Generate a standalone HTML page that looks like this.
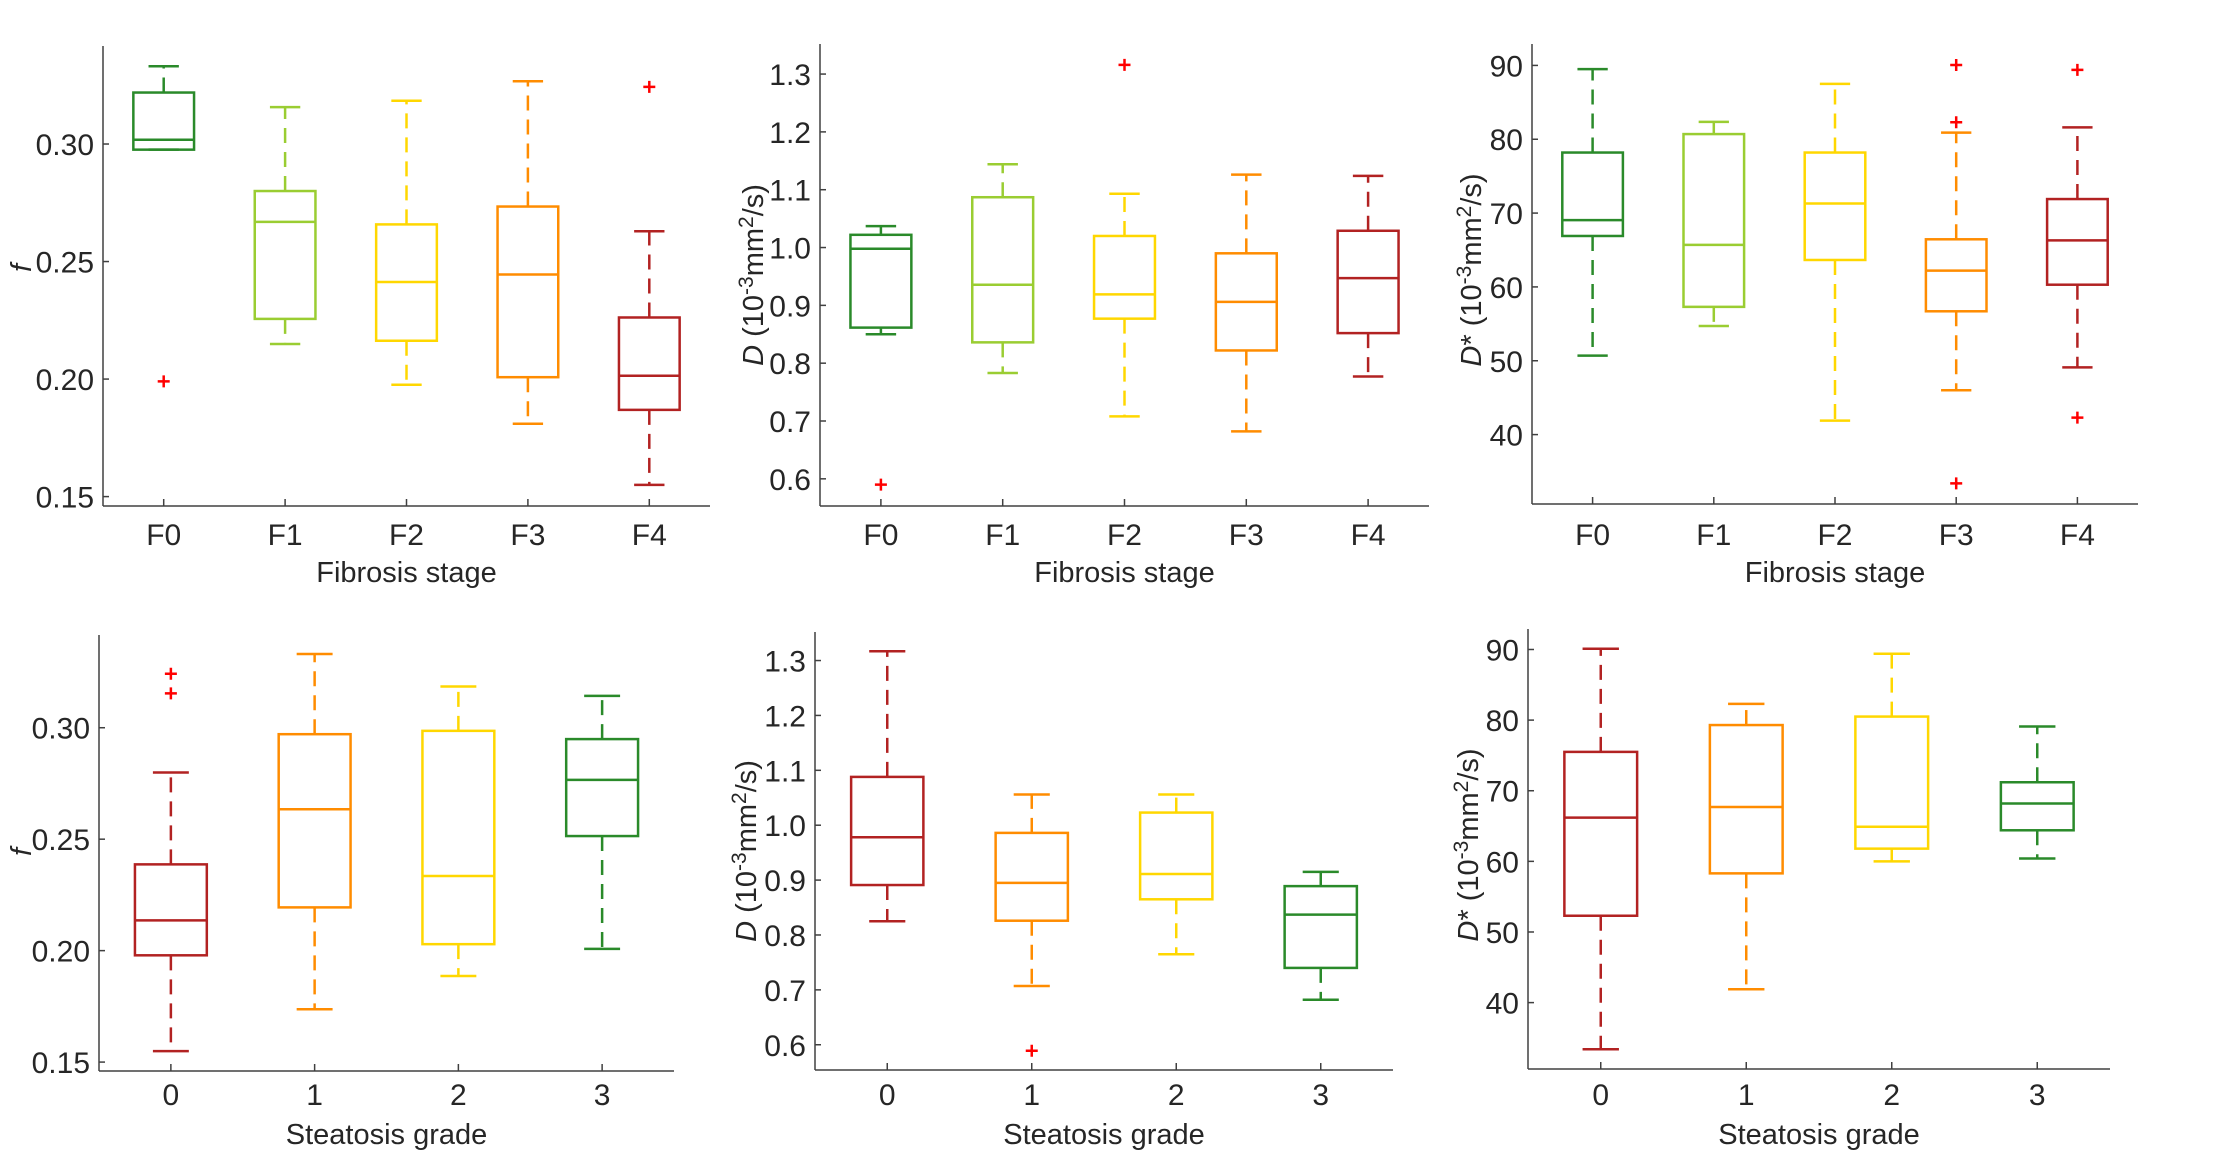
<!DOCTYPE html>
<html><head><meta charset="utf-8"><style>
html,body{margin:0;padding:0;background:#fff;}
svg{display:block;}
text{font-family:"Liberation Sans",Arial,sans-serif;fill:#262626;}
</style></head><body>
<svg id="fig" width="2213" height="1151" viewBox="0 0 2213 1151" xmlns="http://www.w3.org/2000/svg"></svg>
<script>
// ---- category labels ----
const fibrosisCats = ["F0","F1","F2","F3","F4"];
const steatosisCats = ["0","1","2","3"];
// ---- Panel 1: f vs fibrosis ----
const p1Lo  = [0.2976,0.2149,0.1976,0.181,0.155];
const p1Q1  = [0.2976,0.2256,0.2163,0.2008,0.1869];
const p1Med = [0.3018,0.2669,0.2413,0.2445,0.2014];
const p1Q3  = [0.3219,0.280,0.2658,0.2734,0.2262];
const p1Hi  = [0.3331,0.3157,0.3184,0.3267,0.2629];
const p1OutCat = [0,4];
const p1OutVal = [0.199,0.3243];
const p1Ticks = [0.15,0.20,0.25,0.30];
const p1TickLabels = ["0.15","0.20","0.25","0.30"];
// ---- Panel 2: D vs fibrosis ----
const p2Lo  = [0.850,0.783,0.708,0.682,0.777];
const p2Q1  = [0.8615,0.836,0.877,0.822,0.852];
const p2Med = [0.998,0.9357,0.919,0.906,0.947];
const p2Q3  = [1.022,1.087,1.020,0.990,1.029];
const p2Hi  = [1.037,1.144,1.093,1.126,1.124];
const p2OutCat = [0,2];
const p2OutVal = [0.590,1.316];
const p2Ticks = [0.6,0.7,0.8,0.9,1.0,1.1,1.2,1.3];
const p2TickLabels = ["0.6","0.7","0.8","0.9","1.0","1.1","1.2","1.3"];
// ---- Panel 3: D* vs fibrosis ----
const p3Lo  = [50.7,54.7,41.9,46.0,49.1];
const p3Q1  = [66.9,57.3,63.65,56.7,60.3];
const p3Med = [69.05,65.7,71.3,62.2,66.3];
const p3Q3  = [78.2,80.7,78.2,66.45,71.9];
const p3Hi  = [89.5,82.35,87.5,80.9,81.6];
const p3OutCat = [3,3,3,4,4];
const p3OutVal = [90.05,82.3,33.4,89.4,42.3];
const p3Ticks = [40,50,60,70,80,90];
const p3TickLabels = ["40","50","60","70","80","90"];
// ---- Panel 4: f vs steatosis ----
const p4Lo  = [0.1549,0.1737,0.1886,0.2008];
const p4Q1  = [0.1979,0.2194,0.2029,0.2514];
const p4Med = [0.2136,0.2634,0.2335,0.2766];
const p4Q3  = [0.2387,0.2971,0.2986,0.2949];
const p4Hi  = [0.2799,0.3331,0.3185,0.3143];
const p4OutCat = [0,0];
const p4OutVal = [0.3242,0.3154];
// ---- Panel 5: D vs steatosis ----
const p5Lo  = [0.825,0.707,0.765,0.682];
const p5Q1  = [0.891,0.826,0.865,0.740];
const p5Med = [0.978,0.895,0.911,0.837];
const p5Q3  = [1.088,0.986,1.023,0.889];
const p5Hi  = [1.317,1.056,1.056,0.915];
const p5OutCat = [1];
const p5OutVal = [0.589];
// ---- Panel 6: D* vs steatosis ----
const p6Lo  = [33.4,41.9,60.0,60.4];
const p6Q1  = [52.3,58.3,61.8,64.4];
const p6Med = [66.2,67.7,64.9,68.2];
const p6Q3  = [75.5,79.3,80.5,71.2];
const p6Hi  = [90.1,82.3,89.4,79.1];
const p6OutCat = [];
const p6OutVal = [];

const GREEN="#2a8a2a", LGREEN="#9acd32", YEL="#ffd700", ORG="#ff8c00", RED="#b22222";
const fibColors=[GREEN,LGREEN,YEL,ORG,RED];
const steColors=[RED,ORG,YEL,GREEN];
const NS="http://www.w3.org/2000/svg";
const svg=document.getElementById('fig');

function mk(tag,attrs,parent){
  const e=document.createElementNS(NS,tag);
  for(const k in attrs) e.setAttribute(k,attrs[k]);
  (parent||svg).appendChild(e);
  return e;
}

function panel(cfg){
  const g=mk('g',{});
  
  
  const n=cfg.cats.length;
  const xs=i=>cfg.L+(i+0.5)*(cfg.R-cfg.L)/n;
  const ys=v=>cfg.B-(v-cfg.ymin)/(cfg.ymax-cfg.ymin)*(cfg.B-cfg.T);
  const step=(cfg.R-cfg.L)/n;
  const ya=mk('line',{x1:cfg.L,y1:cfg.T,x2:cfg.L,y2:cfg.B,stroke:'#404040','stroke-width':1.5},g);
  
  
  const xa=mk('line',{x1:cfg.L,y1:cfg.B,x2:cfg.R,y2:cfg.B,stroke:'#404040','stroke-width':1.5},g);
  
  
  cfg.ticks.forEach((t,i)=>{
    const y=ys(t);
    mk('line',{x1:cfg.L,y1:y,x2:cfg.L+6,y2:y,stroke:'#404040','stroke-width':1.5},g);
    const tx=mk('text',{x:cfg.L-9,y:y+11,'text-anchor':'end','font-size':30},g);
    tx.textContent=cfg.tickLabels[i];
    
    
  });
  cfg.cats.forEach((c,i)=>{
    const x=xs(i);
    mk('line',{x1:x,y1:cfg.B,x2:x,y2:cfg.B-7,stroke:'#404040','stroke-width':1.5},g);
    const tx=mk('text',{x:x,y:cfg.xlabY,'text-anchor':'middle','font-size':30},g);
    tx.textContent=c;
    
    
  });
  const xt=mk('text',{x:(cfg.L+cfg.R)/2,y:cfg.xtitleY,'text-anchor':'middle','font-size':29},g);
  xt.textContent=cfg.xtitle;
  
  
  const yt=mk('text',{transform:`translate(${cfg.ylx},${cfg.lyc}) rotate(-90)`,'text-anchor':'middle','font-size':29},g);
  yt.innerHTML=cfg.ytitle;
  
  
  const hw=0.25*step, cw=0.125*step;
  for(let i=0;i<n;i++){
    const col=cfg.colors[i], x=xs(i);
    const bg=mk('g',{stroke:col,'stroke-width':2.5,fill:'none'},g);
    
    
    mk('line',{x1:x,y1:ys(cfg.q3[i]),x2:x,y2:ys(cfg.hi[i]),'stroke-dasharray':'15 9'},bg);
    mk('line',{x1:x,y1:ys(cfg.q1[i]),x2:x,y2:ys(cfg.lo[i]),'stroke-dasharray':'15 9'},bg);
    mk('line',{x1:x-cw,y1:ys(cfg.hi[i]),x2:x+cw,y2:ys(cfg.hi[i])},bg);
    mk('line',{x1:x-cw,y1:ys(cfg.lo[i]),x2:x+cw,y2:ys(cfg.lo[i])},bg);
    mk('rect',{x:x-hw,y:ys(cfg.q3[i]),width:2*hw,height:ys(cfg.q1[i])-ys(cfg.q3[i])},bg);
    mk('line',{x1:x-hw,y1:ys(cfg.med[i]),x2:x+hw,y2:ys(cfg.med[i])},bg);
  }
  cfg.outCat.forEach((c,k)=>{
    const x=xs(c), y=ys(cfg.outVal[k]);
    const p=mk('path',{d:`M${x-6} ${y}H${x+6}M${x} ${y-6}V${y+6}`,stroke:'#ff0000','stroke-width':2.5,fill:'none'},g);
    
    
  });
}

const fTitle='<tspan font-style="italic">f</tspan>';
const dTitle='<tspan font-style="italic">D</tspan> (10<tspan dy="-10" font-size="21">-3</tspan><tspan dy="10">mm</tspan><tspan dy="-10" font-size="21">2</tspan><tspan dy="10">/s)</tspan>';
const dsTitle='<tspan font-style="italic">D</tspan>* (10<tspan dy="-10" font-size="21">-3</tspan><tspan dy="10">mm</tspan><tspan dy="-10" font-size="21">2</tspan><tspan dy="10">/s)</tspan>';

panel({name:'panel-f-fibrosis',cats:fibrosisCats,colors:fibColors,L:103,R:710,T:46,B:506,ymin:0.146,ymax:0.3417,
  lo:p1Lo,q1:p1Q1,med:p1Med,q3:p1Q3,hi:p1Hi,outCat:p1OutCat,outVal:p1OutVal,ticks:p1Ticks,tickLabels:p1TickLabels,
  xlabY:545,xtitleY:582,xtitle:'Fibrosis stage',ytitle:fTitle,ylx:31,lyc:268});
panel({name:'panel-d-fibrosis',cats:fibrosisCats,colors:fibColors,L:820,R:1429,T:44,B:506,ymin:0.553,ymax:1.352,
  lo:p2Lo,q1:p2Q1,med:p2Med,q3:p2Q3,hi:p2Hi,outCat:p2OutCat,outVal:p2OutVal,ticks:p2Ticks,tickLabels:p2TickLabels,
  xlabY:545,xtitleY:582,xtitle:'Fibrosis stage',ytitle:dTitle,ylx:763,lyc:275});
panel({name:'panel-dstar-fibrosis',cats:fibrosisCats,colors:fibColors,L:1532,R:2138,T:44,B:504,ymin:30.6,ymax:92.9,
  lo:p3Lo,q1:p3Q1,med:p3Med,q3:p3Q3,hi:p3Hi,outCat:p3OutCat,outVal:p3OutVal,ticks:p3Ticks,tickLabels:p3TickLabels,
  xlabY:545,xtitleY:582,xtitle:'Fibrosis stage',ytitle:dsTitle,ylx:1481,lyc:270});
panel({name:'panel-f-steatosis',cats:steatosisCats,colors:steColors,L:99,R:674,T:635,B:1071,ymin:0.146,ymax:0.3416,
  lo:p4Lo,q1:p4Q1,med:p4Med,q3:p4Q3,hi:p4Hi,outCat:p4OutCat,outVal:p4OutVal,ticks:p1Ticks,tickLabels:p1TickLabels,
  xlabY:1105,xtitleY:1144,xtitle:'Steatosis grade',ytitle:fTitle,ylx:31,lyc:852});
panel({name:'panel-d-steatosis',cats:steatosisCats,colors:steColors,L:815,R:1393,T:632,B:1070,ymin:0.554,ymax:1.352,
  lo:p5Lo,q1:p5Q1,med:p5Med,q3:p5Q3,hi:p5Hi,outCat:p5OutCat,outVal:p5OutVal,ticks:p2Ticks,tickLabels:p2TickLabels,
  xlabY:1105,xtitleY:1144,xtitle:'Steatosis grade',ytitle:dTitle,ylx:756,lyc:851});
panel({name:'panel-dstar-steatosis',cats:steatosisCats,colors:steColors,L:1528,R:2110,T:629,B:1069,ymin:30.6,ymax:92.9,
  lo:p6Lo,q1:p6Q1,med:p6Med,q3:p6Q3,hi:p6Hi,outCat:p6OutCat,outVal:p6OutVal,ticks:p3Ticks,tickLabels:p3TickLabels,
  xlabY:1105,xtitleY:1144,xtitle:'Steatosis grade',ytitle:dsTitle,ylx:1478,lyc:845});
</script>
</body></html>
